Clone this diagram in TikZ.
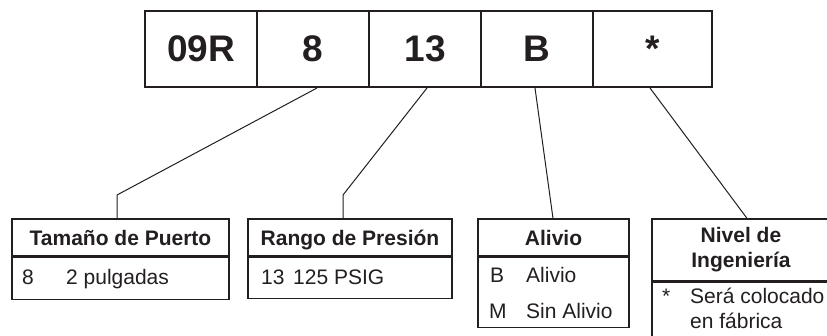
\documentclass[tikz,border=0pt]{standalone}
\usepackage{fontspec}
\setmainfont{Liberation Sans}
\definecolor{ink}{HTML}{231F20}
\begin{document}
\begin{tikzpicture}[x=1pt,y=-1pt,
  cell/.style={draw=ink,line width=2pt,minimum width=112pt,minimum height=76pt,inner sep=0pt,text=ink,font=\fontsize{37}{40}\selectfont\bfseries},
  boxpart/.style={draw=ink,line width=1.3pt,inner sep=0pt},
  hdr/.style={text=ink,font=\fontsize{21}{25}\selectfont\bfseries,align=center,inner sep=0pt},
  bodytxt/.style={text=ink,font=\fontsize{21}{24}\selectfont,anchor=base west,inner sep=0pt},
  conn/.style={draw=ink,line width=1pt}]
\useasboundingbox (0,0) rectangle (827,335);
\clip (0,0) rectangle (827,335);
\fill[white] (0,0) rectangle (827,335);
% top row
\node[cell] (c1) at (201,49) {09R};
\node[cell] (c2) at (313,49) {8};
\node[cell] (c3) at (425,49) {13};
\node[cell] (c4) at (537,49) {B};
\node[cell,minimum width=119pt] (c5) at (652.5,49) {*};
% bottom boxes
\node[boxpart,minimum width=217pt,minimum height=37pt] (h1) at (120.5,237.5) {};
\node[boxpart,minimum width=217pt,minimum height=42pt,anchor=north] (d1) at (h1.south) {};
\node[hdr,anchor=base] at (120.5,245) {Tamaño de Puerto};
\node[bodytxt] at (22,284) {8};
\node[bodytxt] at (66,284) {2 pulgadas};

\node[boxpart,minimum width=204pt,minimum height=37pt] (h2) at (350,237.5) {};
\node[boxpart,minimum width=204pt,minimum height=41pt,anchor=north] (d2) at (h2.south) {};
\node[hdr,anchor=base] at (350,245) {Rango de Presión};
\node[bodytxt] at (261,284) {13};
\node[bodytxt] at (293,284) {125 PSIG};

\node[boxpart,minimum width=151pt,minimum height=37pt] (h3) at (553.5,237.5) {};
\node[boxpart,minimum width=151pt,minimum height=70pt,anchor=north] (d3) at (h3.south) {};
\node[hdr,anchor=base] at (553.5,245) {Alivio};
\node[bodytxt] at (490,282) {B};
\node[bodytxt] at (526,282) {Alivio};
\node[bodytxt] at (489,318) {M};
\node[bodytxt] at (526,318) {Sin Alivio};

\node[boxpart,minimum width=180pt,minimum height=62pt] (h4) at (742,250) {};
\node[boxpart,minimum width=180pt,minimum height=90pt,anchor=north] (d4) at (h4.south) {};
\node[hdr] at (741,250) {Nivel de\\Ingeniería};
\node[bodytxt] at (662,303) {*};
\node[bodytxt] at (690,303) {Será colocado};
\node[bodytxt] at (690,328) {en fábrica};
% connectors
\coordinate (k1) at (117,195);
\coordinate (k2) at (343,195);
\draw[conn] ([xshift=4pt]c2.south) -- (k1) -- (k1 |- h1.north);
\draw[conn] ([xshift=2pt]c3.south) -- (k2) -- (k2 |- h2.north);
\draw[conn] ([xshift=-2pt]c4.south) -- ([xshift=-0.5pt]h3.north);
\draw[conn] ([xshift=-2.5pt]c5.south) -- ([xshift=5pt]h4.north);
\end{tikzpicture}
\end{document}
